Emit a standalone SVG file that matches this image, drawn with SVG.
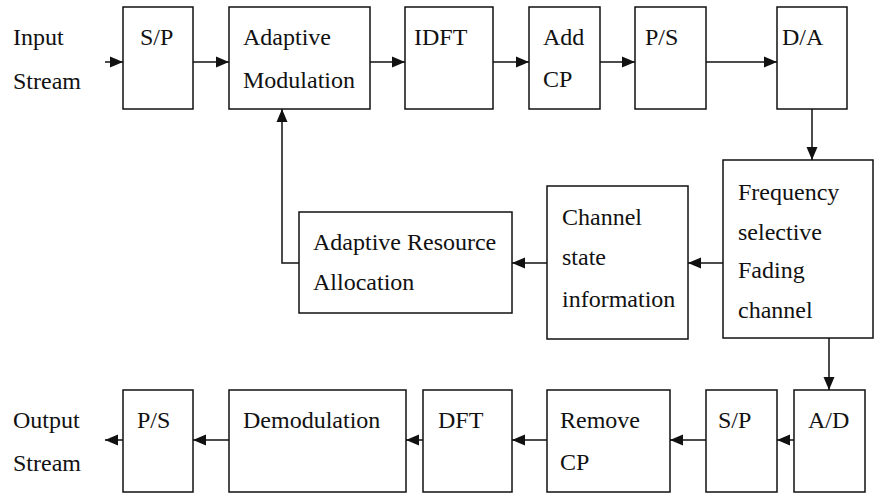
<svg xmlns="http://www.w3.org/2000/svg" width="874" height="495" viewBox="0 0 874 495">
<defs>
<marker id="ah" markerUnits="userSpaceOnUse" markerWidth="13" markerHeight="13" viewBox="0 0 13 13" refX="13" refY="6.5" orient="auto">
<path d="M0,1 L13,6.5 L0,12 Z" fill="#111"/>
</marker>
</defs>
<rect width="874" height="495" fill="#fff"/>
<g id="labels" fill="#111" font-family="Times New Roman, Liberation Serif, serif" font-size="24">
<text x="13" y="45">Input</text>
<text x="13" y="89">Stream</text>
<text x="13" y="428">Output</text>
<text x="13" y="471">Stream</text>
</g>
<g id="connectors" fill="none" stroke="#111" stroke-width="1.5">
<line x1="105" y1="62" x2="123" y2="62" marker-end="url(#ah)"/>
<line x1="193" y1="62" x2="229" y2="62" marker-end="url(#ah)"/>
<line x1="370" y1="62" x2="405" y2="62" marker-end="url(#ah)"/>
<line x1="493" y1="62" x2="529" y2="62" marker-end="url(#ah)"/>
<line x1="600" y1="62" x2="635" y2="62" marker-end="url(#ah)"/>
<line x1="706" y1="62" x2="777" y2="62" marker-end="url(#ah)"/>
<line x1="812" y1="109" x2="812" y2="160" marker-end="url(#ah)"/>
<line x1="723" y1="263" x2="688" y2="263" marker-end="url(#ah)"/>
<line x1="547" y1="263" x2="512" y2="263" marker-end="url(#ah)"/>
<polyline points="299,263 282,263 282,109" marker-end="url(#ah)"/>
<line x1="829" y1="338" x2="829" y2="390" marker-end="url(#ah)"/>
<line x1="794" y1="440" x2="777" y2="440" marker-end="url(#ah)"/>
<line x1="706" y1="440" x2="670" y2="440" marker-end="url(#ah)"/>
<line x1="547" y1="440" x2="512" y2="440" marker-end="url(#ah)"/>
<line x1="423" y1="440" x2="406" y2="440" marker-end="url(#ah)"/>
<line x1="229" y1="440" x2="193" y2="440" marker-end="url(#ah)"/>
<line x1="123" y1="440" x2="105" y2="440" marker-end="url(#ah)"/>
</g>
<g id="nodes" fill="#111" font-family="Times New Roman, Liberation Serif, serif" font-size="24">
<g id="sp1"><rect x="123" y="7" width="70" height="102" fill="#fff" stroke="#111" stroke-width="1.5"/><text x="140" y="45">S/P</text></g>
<g id="admod"><rect x="229" y="7" width="141" height="102" fill="#fff" stroke="#111" stroke-width="1.5"/><text x="243" y="45">Adaptive</text><text x="243" y="88">Modulation</text></g>
<g id="idft"><rect x="405" y="7" width="88" height="102" fill="#fff" stroke="#111" stroke-width="1.5"/><text x="414" y="45">IDFT</text></g>
<g id="addcp"><rect x="529" y="7" width="71" height="102" fill="#fff" stroke="#111" stroke-width="1.5"/><text x="543" y="45">Add</text><text x="543" y="87">CP</text></g>
<g id="ps1"><rect x="635" y="7" width="71" height="102" fill="#fff" stroke="#111" stroke-width="1.5"/><text x="645" y="45">P/S</text></g>
<g id="da"><rect x="777" y="7" width="70" height="102" fill="#fff" stroke="#111" stroke-width="1.5"/><text x="782" y="45">D/A</text></g>
<g id="fsfc"><rect x="723" y="160" width="150" height="178" fill="#fff" stroke="#111" stroke-width="1.5"/><text x="738" y="200">Frequency</text><text x="738" y="240">selective</text><text x="738" y="278">Fading</text><text x="738" y="318">channel</text></g>
<g id="csi"><rect x="547" y="186" width="141" height="153" fill="#fff" stroke="#111" stroke-width="1.5"/><text x="562" y="225">Channel</text><text x="562" y="265">state</text><text x="562" y="307">information</text></g>
<g id="ara"><rect x="299" y="212" width="213" height="101" fill="#fff" stroke="#111" stroke-width="1.5"/><text x="313" y="250">Adaptive Resource</text><text x="313" y="290">Allocation</text></g>
<g id="ad"><rect x="794" y="390" width="71" height="102" fill="#fff" stroke="#111" stroke-width="1.5"/><text x="808" y="428">A/D</text></g>
<g id="sp2"><rect x="706" y="390" width="71" height="102" fill="#fff" stroke="#111" stroke-width="1.5"/><text x="718" y="428">S/P</text></g>
<g id="rmcp"><rect x="547" y="390" width="123" height="102" fill="#fff" stroke="#111" stroke-width="1.5"/><text x="560" y="428">Remove</text><text x="560" y="470">CP</text></g>
<g id="dft"><rect x="423" y="390" width="89" height="102" fill="#fff" stroke="#111" stroke-width="1.5"/><text x="438" y="428">DFT</text></g>
<g id="demod"><rect x="229" y="390" width="177" height="102" fill="#fff" stroke="#111" stroke-width="1.5"/><text x="243" y="428">Demodulation</text></g>
<g id="ps2"><rect x="123" y="390" width="70" height="102" fill="#fff" stroke="#111" stroke-width="1.5"/><text x="137" y="428">P/S</text></g>
</g>
</svg>
